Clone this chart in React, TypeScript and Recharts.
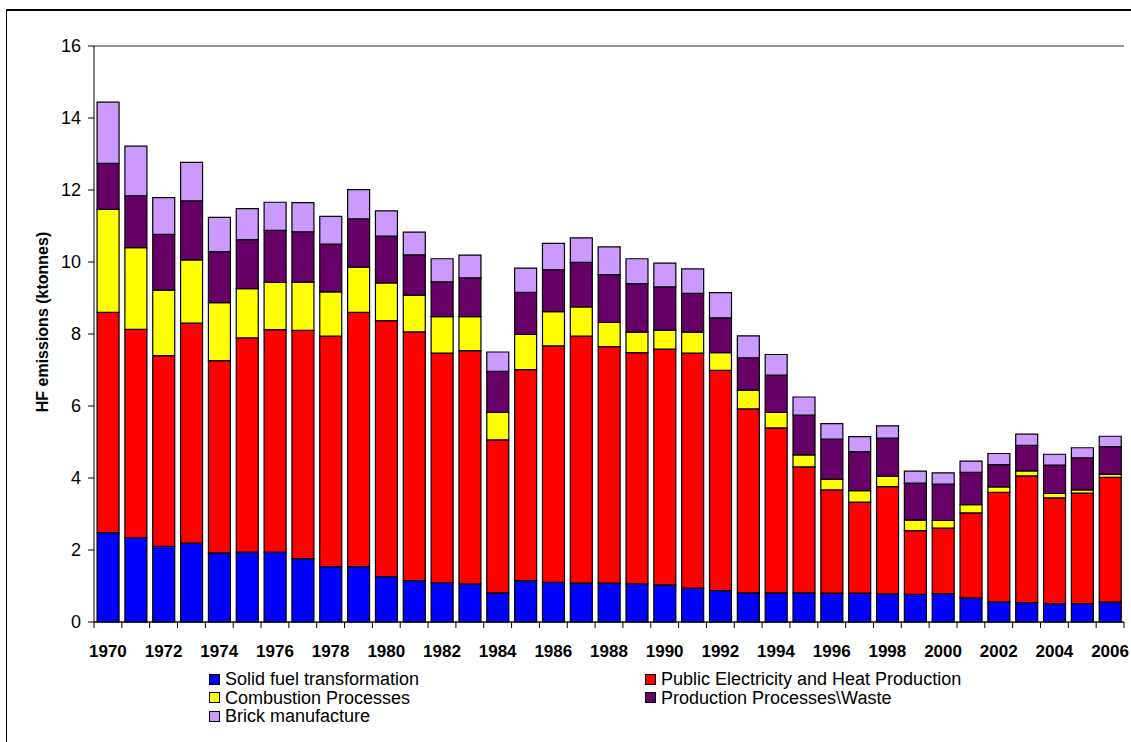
import React from 'react';
import { BarChart, Bar, XAxis, YAxis, CartesianGrid, Legend } from 'recharts';

const years = [
  '1970','1971','1972','1973','1974','1975','1976','1977','1978','1979',
  '1980','1981','1982','1983','1984','1985','1986','1987','1988','1989',
  '1990','1991','1992','1993','1994','1995','1996','1997','1998','1999',
  '2000','2001','2002','2003','2004','2005','2006',
];

const solidFuel = [2.48,2.34,2.10,2.19,1.92,1.94,1.94,1.76,1.54,1.54,1.26,1.15,1.09,1.06,0.81,1.15,1.10,1.08,1.08,1.06,1.03,0.94,0.87,0.81,0.81,0.81,0.80,0.80,0.78,0.77,0.79,0.67,0.56,0.54,0.51,0.51,0.55];
const publicElec = [6.12,5.79,5.30,6.11,5.34,5.95,6.18,6.34,6.40,7.06,7.11,6.91,6.38,6.48,4.25,5.86,6.57,6.86,6.57,6.42,6.55,6.53,6.12,5.11,4.58,3.50,2.87,2.53,2.98,1.77,1.82,2.36,3.04,3.52,2.94,3.07,3.47];
const combustion = [2.86,2.27,1.82,1.76,1.61,1.37,1.31,1.34,1.23,1.26,1.05,1.02,1.01,0.94,0.76,0.98,0.95,0.81,0.67,0.57,0.53,0.58,0.49,0.52,0.43,0.33,0.30,0.32,0.29,0.29,0.21,0.23,0.15,0.14,0.12,0.09,0.08];
const production = [1.28,1.44,1.55,1.64,1.42,1.36,1.45,1.40,1.33,1.34,1.30,1.12,0.97,1.08,1.14,1.17,1.17,1.24,1.33,1.35,1.20,1.08,0.97,0.90,1.04,1.11,1.11,1.08,1.06,1.03,1.01,0.90,0.62,0.71,0.79,0.89,0.77];
const brick = [1.70,1.38,1.02,1.07,0.95,0.86,0.78,0.81,0.77,0.81,0.70,0.63,0.64,0.63,0.54,0.67,0.73,0.68,0.77,0.69,0.66,0.68,0.70,0.61,0.57,0.50,0.43,0.42,0.34,0.33,0.31,0.31,0.31,0.31,0.30,0.28,0.29];

const yTicks = [0, 2, 4, 6, 8, 10, 12, 14, 16];

const seriesNames = [
  'Solid fuel transformation',
  'Public Electricity and Heat Production',
  'Combustion Processes',
  'Production Processes\\Waste',
  'Brick manufacture',
];
const seriesKeys = ['solid', 'publicElec', 'combustion', 'production', 'brick'];
const seriesColors = ['#0000FF', '#FF0000', '#FFFF00', '#660066', '#CC99FF'];

const data = years.map((year, i) => ({
  year,
  solid: solidFuel[i],
  publicElec: publicElec[i],
  combustion: combustion[i],
  production: production[i],
  brick: brick[i],
}));

const FONT = '"Liberation Sans", Arial, Helvetica, sans-serif';
const CHART_W = 1131;
const CHART_H = 742;
const MARGIN = { top: 46, right: 7, bottom: 90, left: 0 };
const Y_AXIS_W = 94;
const PLOT_W = CHART_W - MARGIN.left - MARGIN.right - Y_AXIS_W;
const BAND = PLOT_W / years.length;

function XTick(props: any) {
  const { x, y, payload, index } = props;
  const left = x - BAND / 2;
  const right = x + BAND / 2;
  return (
    <g>
      <line x1={left} x2={left} y1={y} y2={y + 6} stroke="#000" strokeWidth={1} />
      {index === years.length - 1 && (
        <line x1={right} x2={right} y1={y} y2={y + 6} stroke="#000" strokeWidth={1} />
      )}
      {index % 2 === 0 && (
        <text
          x={x}
          y={y + 35}
          textAnchor="middle"
          fontFamily={FONT}
          fontSize={17}
          fontWeight="bold"
          fill="#000"
        >
          {payload.value}
        </text>
      )}
    </g>
  );
}

function YLabel(props: any) {
  const vb = props.viewBox || { y: 46, height: 576 };
  const cx = 48;
  const cy = vb.y + vb.height / 2 - 12;
  return (
    <text
      x={cx}
      y={cy}
      transform={`rotate(-90, ${cx}, ${cy})`}
      textAnchor="middle"
      fontFamily={FONT}
      fontSize={16}
      fontWeight="bold"
      fill="#000"
    >
      HF emissions (ktonnes)
    </text>
  );
}

function LegendContent() {
  return (
    <div
      style={{
        display: 'grid',
        gridTemplateColumns: '436px auto',
        fontFamily: FONT,
        fontSize: 18,
        lineHeight: '18.5px',
        color: '#000',
      }}
    >
      {seriesNames.map((name, i) => (
        <div key={name} style={{ display: 'flex', alignItems: 'center', whiteSpace: 'nowrap' }}>
          <span
            style={{
              display: 'inline-block',
              width: 9,
              height: 9,
              border: '1.5px solid #000',
              background: seriesColors[i],
              marginRight: 5,
            }}
          />
          <span>{name}</span>
        </div>
      ))}
    </div>
  );
}

export default function App() {
  return (
    <div
      style={{
        position: 'absolute',
        left: 0,
        top: 0,
        width: CHART_W,
        height: CHART_H,
        overflow: 'hidden',
        background: '#fff',
      }}
    >
      <div
        style={{
          position: 'absolute',
          left: 6,
          top: 9,
          width: CHART_W + 20,
          height: CHART_H + 20,
          borderLeft: '1.5px solid #000',
          borderTop: '2px solid #000',
          boxSizing: 'border-box',
        }}
      />
      <div style={{ position: 'absolute', left: 0, top: 0 }}>
        <BarChart
          width={CHART_W}
          height={CHART_H}
          data={data}
          margin={MARGIN}
          barCategoryGap="11%"
        >
          <CartesianGrid horizontal vertical={false} stroke="#2a2a2a" strokeWidth={1} />
          <XAxis
            dataKey="year"
            interval={0}
            height={30}
            tickSize={0}
            tickMargin={0}
            tickLine={false}
            axisLine={{ stroke: '#000', strokeWidth: 1 }}
            tick={<XTick />}
          />
          <YAxis
            yAxisId="left"
            width={Y_AXIS_W}
            domain={[0, 16]}
            ticks={yTicks}
            interval={0}
            tickSize={6}
            tickMargin={7}
            axisLine={{ stroke: '#000', strokeWidth: 1 }}
            tickLine={{ stroke: '#000', strokeWidth: 1 }}
            tick={{ fontFamily: FONT, fontSize: 18, fill: '#000' }}
            label={<YLabel />}
          />
          <YAxis
            yAxisId="right"
            orientation="right"
            width={0}
            domain={[0, 16]}
            tick={false}
            tickLine={false}
            axisLine={{ stroke: '#999', strokeWidth: 2 }}
          />
          <Legend
            layout="horizontal"
            verticalAlign="middle"
            align="center"
            wrapperStyle={{ top: 670, left: 209, width: 800 }}
            content={<LegendContent />}
          />
          {seriesKeys.map((key, i) => (
            <Bar
              key={key}
              yAxisId="left"
              dataKey={key}
              name={seriesNames[i]}
              stackId="a"
              fill={seriesColors[i]}
              stroke="#000"
              strokeWidth={1.2}
              isAnimationActive={false}
            />
          ))}
        </BarChart>
      </div>
    </div>
  );
}
